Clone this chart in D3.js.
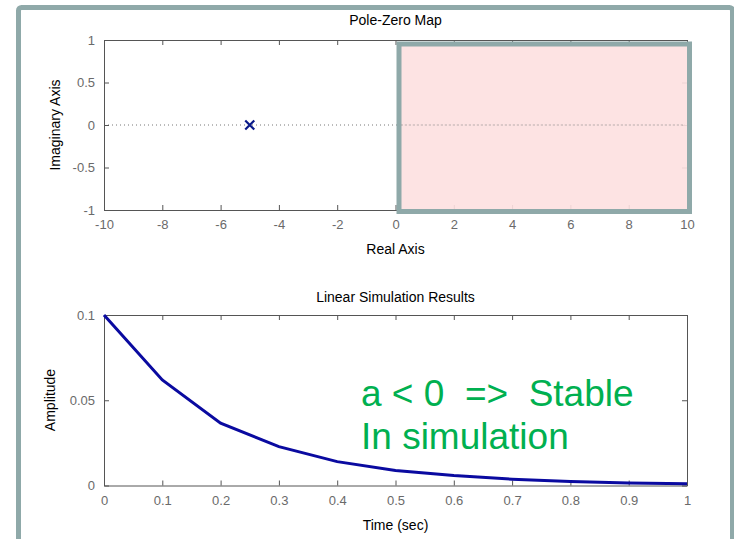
<!DOCTYPE html>
<html>
<head>
<meta charset="utf-8">
<script src="https://cdn.jsdelivr.net/npm/d3@7"></script>
<style>
  body { margin: 0; background: #fff; }
  text { font-family: "Liberation Sans", Arial, sans-serif; }
  .axis path, .axis line { stroke: #555; }
  .axis text { fill: #6a6a6a; font-size: 13px; }
</style>
</head>
<body>
<svg width="734" height="539"></svg>
<script>
// pole-zero map data
var poles = [{re: -5, im: 0}];
var pzXTicks = [-10, -8, -6, -4, -2, 0, 2, 4, 6, 8, 10];
var pzYTicks = [-1, -0.5, 0, 0.5, 1];
var unstableRegion = [0, 10];   // right half plane (real axis)

// simulation response data
var simTime = [0, 0.1, 0.2, 0.3, 0.4, 0.5, 0.6, 0.7, 0.8, 0.9, 1.0];
var simAmp  = [0.1, 0.0619, 0.0366, 0.0228, 0.014, 0.0088, 0.0058, 0.0037, 0.0023, 0.0015, 0.001];
var simXTicks = [0, 0.1, 0.2, 0.3, 0.4, 0.5, 0.6, 0.7, 0.8, 0.9, 1];
var simYTicks = [0, 0.05, 0.1];

var svg = d3.select("svg");

// outer slide frame
svg.append("rect")
    .attr("x", 18.5).attr("y", 7.5)
    .attr("width", 714).attr("height", 600)
    .attr("rx", 3)
    .attr("fill", "none")
    .attr("stroke", "#8fa9a9")
    .attr("stroke-width", 5);

var left = 104, right = 687;
var plain = function(d) { return String(d); };

function boxAxes(g, x, y, xt, yt) {
  var x0 = x.range()[0], xN = x.range()[1];
  var yb = y.range()[0], yt0 = y.range()[1];
  g.append("g").attr("class", "axis")
      .attr("transform", "translate(0," + yb + ")")
      .call(d3.axisBottom(x).tickValues(xt).tickSizeInner(-5).tickSizeOuter(0).tickPadding(10).tickFormat(plain));
  g.append("g").attr("class", "axis")
      .attr("transform", "translate(0," + yt0 + ")")
      .call(d3.axisTop(x).tickValues(xt).tickSizeInner(-5).tickSizeOuter(0).tickFormat(""));
  g.append("g").attr("class", "axis")
      .attr("transform", "translate(" + x0 + ",0)")
      .call(d3.axisLeft(y).tickValues(yt).tickSizeInner(-5).tickSizeOuter(0).tickPadding(9).tickFormat(plain));
  g.append("g").attr("class", "axis")
      .attr("transform", "translate(" + xN + ",0)")
      .call(d3.axisRight(y).tickValues(yt).tickSizeInner(-5).tickSizeOuter(0).tickFormat(""));
}

// ---------- Pole-Zero Map ----------
var x1 = d3.scaleLinear().domain([-10, 10]).range([left, right]);
var y1 = d3.scaleLinear().domain([-1, 1]).range([210, 40]);

var g1 = svg.append("g");

// zero line
g1.append("line")
    .attr("x1", x1(-10)).attr("x2", x1(10))
    .attr("y1", y1(0)).attr("y2", y1(0))
    .attr("stroke", "#777").attr("stroke-dasharray", "1,3");

boxAxes(g1, x1, y1, pzXTicks, pzYTicks);

// highlighted right half plane
g1.append("rect")
    .attr("x", x1(unstableRegion[0]) + 3.5)
    .attr("y", y1(1) + 4)
    .attr("width", x1(unstableRegion[1]) - x1(unstableRegion[0]) - 1)
    .attr("height", y1(-1) - y1(1) - 2.5)
    .attr("fill", "#fde0e0")
    .attr("fill-opacity", 0.9)
    .attr("stroke", "#8fa9a9")
    .attr("stroke-width", 5);

// dotted line shows through highlight
g1.append("line")
    .attr("x1", x1(0) + 6).attr("x2", x1(10) - 2)
    .attr("y1", y1(0)).attr("y2", y1(0))
    .attr("stroke", "#777").attr("stroke-dasharray", "1,3");

// poles
var s = 4.5;
poles.forEach(function(p) {
  var cx = x1(p.re), cy = y1(p.im);
  g1.append("path")
      .attr("d", "M" + (cx - s) + "," + (cy - s) + "L" + (cx + s) + "," + (cy + s) +
                 "M" + (cx - s) + "," + (cy + s) + "L" + (cx + s) + "," + (cy - s))
      .attr("stroke", "#0a1a8a").attr("stroke-width", 2.2);
});

svg.append("text").attr("x", (left + right) / 2).attr("y", 25)
    .attr("text-anchor", "middle").attr("font-size", 14).text("Pole-Zero Map");
svg.append("text").attr("x", (left + right) / 2).attr("y", 254)
    .attr("text-anchor", "middle").attr("font-size", 14).text("Real Axis");
svg.append("text").attr("transform", "translate(60,125) rotate(-90)")
    .attr("text-anchor", "middle").attr("font-size", 14).text("Imaginary Axis");

// ---------- Linear Simulation ----------
var x2 = d3.scaleLinear().domain([0, 1]).range([left, right]);
var y2 = d3.scaleLinear().domain([0, 0.1]).range([485.5, 315]);

var g2 = svg.append("g");
boxAxes(g2, x2, y2, simXTicks, simYTicks);

var line = d3.line()
    .x(function(d, i) { return x2(simTime[i]); })
    .y(function(d) { return y2(d); });

g2.append("path")
    .datum(simAmp)
    .attr("d", line)
    .attr("fill", "none")
    .attr("stroke", "#0a0aa0")
    .attr("stroke-width", 3);

svg.append("text").attr("x", (left + right) / 2).attr("y", 302)
    .attr("text-anchor", "middle").attr("font-size", 14).text("Linear Simulation Results");
svg.append("text").attr("x", (left + right) / 2).attr("y", 530)
    .attr("text-anchor", "middle").attr("font-size", 14).text("Time (sec)");
svg.append("text").attr("transform", "translate(55,400) rotate(-90)")
    .attr("text-anchor", "middle").attr("font-size", 14).text("Amplitude");

// annotation
var note = svg.append("text")
    .attr("fill", "#00b050")
    .attr("font-size", 37)
    .style("white-space", "pre");
note.append("tspan").attr("x", 361).attr("y", 406).text("a < 0  =>  Stable");
note.append("tspan").attr("x", 361).attr("y", 449).text("In simulation");
</script>
</body>
</html>
